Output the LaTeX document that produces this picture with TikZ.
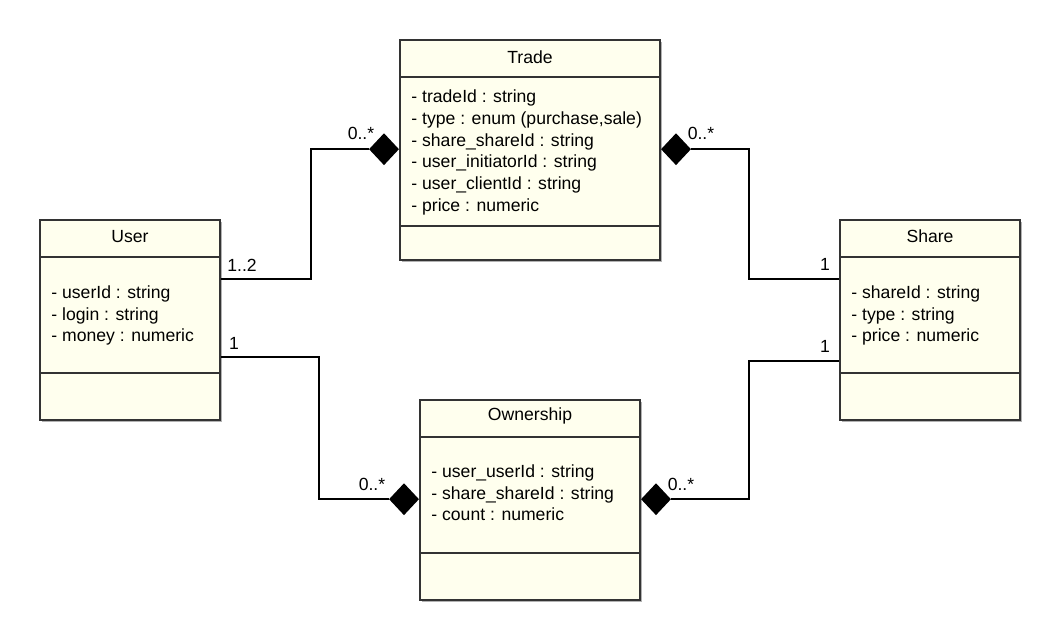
\documentclass[tikz,border=0pt]{standalone}
\usepackage{fontspec}
\setmainfont{Liberation Sans}
\usetikzlibrary{shapes.geometric,shadows,calc}
\definecolor{classfill}{HTML}{FFFFEE}
\definecolor{classdraw}{HTML}{333333}
\newcommand\umlfont{\fontsize{17.6}{21.7}\selectfont}

\begin{document}
\begin{tikzpicture}[x=1pt,y=-1pt,
    classbox/.style={draw=classdraw,line width=1.6pt,fill=classfill,inner sep=0pt,
      drop shadow={shadow xshift=1.5pt,shadow yshift=-1.5pt,opacity=0.3,fill=black}},
    classline/.style={draw=classdraw,line width=1.6pt},
    classname/.style={font=\umlfont,inner sep=0pt},
    attrs/.style={font=\umlfont,align=left,anchor=north west,inner sep=0pt},
    mult/.style={font=\umlfont,inner sep=0pt},
    assoc/.style={line width=1.6pt},
    compdiamond/.style={diamond,fill=black,inner sep=0pt,minimum width=30pt,minimum height=32pt}]
      \useasboundingbox (0,0) rectangle (1060,640);

      % classes
      \node[classbox,minimum width=260pt,minimum height=220pt] (trade) at (530,150) {};
      \node[classbox,minimum width=180pt,minimum height=200pt] (user) at (130,320) {};
      \node[classbox,minimum width=180pt,minimum height=200pt] (share) at (930,320) {};
      \node[classbox,minimum width=220pt,minimum height=200pt] (own) at (530,500) {};

      \draw[classline] ([yshift=-38pt]trade.north west) -- ([yshift=-38pt]trade.north east);
      \draw[classline] ([yshift=35pt]trade.south west) -- ([yshift=35pt]trade.south east);
      \draw[classline] ([yshift=-38pt]user.north west) -- ([yshift=-38pt]user.north east);
      \draw[classline] ([yshift=48pt]user.south west) -- ([yshift=48pt]user.south east);
      \draw[classline] ([yshift=-38pt]share.north west) -- ([yshift=-38pt]share.north east);
      \draw[classline] ([yshift=48pt]share.south west) -- ([yshift=48pt]share.south east);
      \draw[classline] ([yshift=-38pt]own.north west) -- ([yshift=-38pt]own.north east);
      \draw[classline] ([yshift=48pt]own.south west) -- ([yshift=48pt]own.south east);

      \node[classname] (tradename) at ([yshift=-18pt]trade.north) {Trade};
      \node[classname] (username) at ([yshift=-17pt]user.north) {User};
      \node[classname] (sharename) at ([yshift=-17pt]share.north) {Share};
      \node[classname] (ownname) at ([yshift=-17pt]own.north) {Ownership};

      \node[attrs] (tradeattrs) at ([xshift=12pt,yshift=-50.5pt]trade.north west)
        {- tradeId : string\\- type : enum (purchase,sale)\\- share\_shareId : string\\- user\_initiatorId : string\\- user\_clientId : string\\- price : numeric};
      \node[attrs] (userattrs) at ([xshift=12pt,yshift=-66.3pt]user.north west)
        {- userId : string\\- login : string\\- money : numeric};
      \node[attrs] (shareattrs) at ([xshift=12pt,yshift=-66.3pt]share.north west)
        {- shareId : string\\- type : string\\- price : numeric};
      \node[attrs] (ownattrs) at ([xshift=12pt,yshift=-65.3pt]own.north west)
        {- user\_userId : string\\- share\_shareId : string\\- count : numeric};

      % composition diamonds
      \node[compdiamond,anchor=east] (tradeleft) at ([yshift=-110pt]trade.north west) {};
      \node[compdiamond,anchor=west] (traderight) at ([yshift=-110pt]trade.north east) {};
      \node[compdiamond,anchor=east] (ownleft) at ([yshift=-100pt]own.north west) {};
      \node[compdiamond,anchor=west] (ownright) at ([yshift=-100pt]own.north east) {};

      % associations
      \draw[assoc] ([yshift=-60pt]user.north east) -| ([xshift=-58pt]tradeleft.west) -- (tradeleft.west);
      \draw[assoc] (traderight.east) -| ([yshift=-60pt,xshift=-90pt]share.north west) -- ([yshift=-60pt]share.north west);
      \draw[assoc] ([yshift=-138pt]user.north east) -| ([xshift=-70pt]ownleft.west) -- (ownleft.west);
      \draw[assoc] (ownright.east) -| ([yshift=-142pt,xshift=-90pt]share.north west) -- ([yshift=-142pt]share.north west);

      % multiplicities
      \node[mult] (m1) at (242,265) {1..2};
      \node[mult] (m2) at (361,133) {0..*};
      \node[mult] (m3) at (701,133) {0..*};
      \node[mult] (m4) at (825,264) {1};
      \node[mult] (m5) at (234,343) {1};
      \node[mult] (m6) at (372,484) {0..*};
      \node[mult] (m7) at (681,484) {0..*};
      \node[mult] (m8) at (825,346) {1};
    \end{tikzpicture}
\end{document}
